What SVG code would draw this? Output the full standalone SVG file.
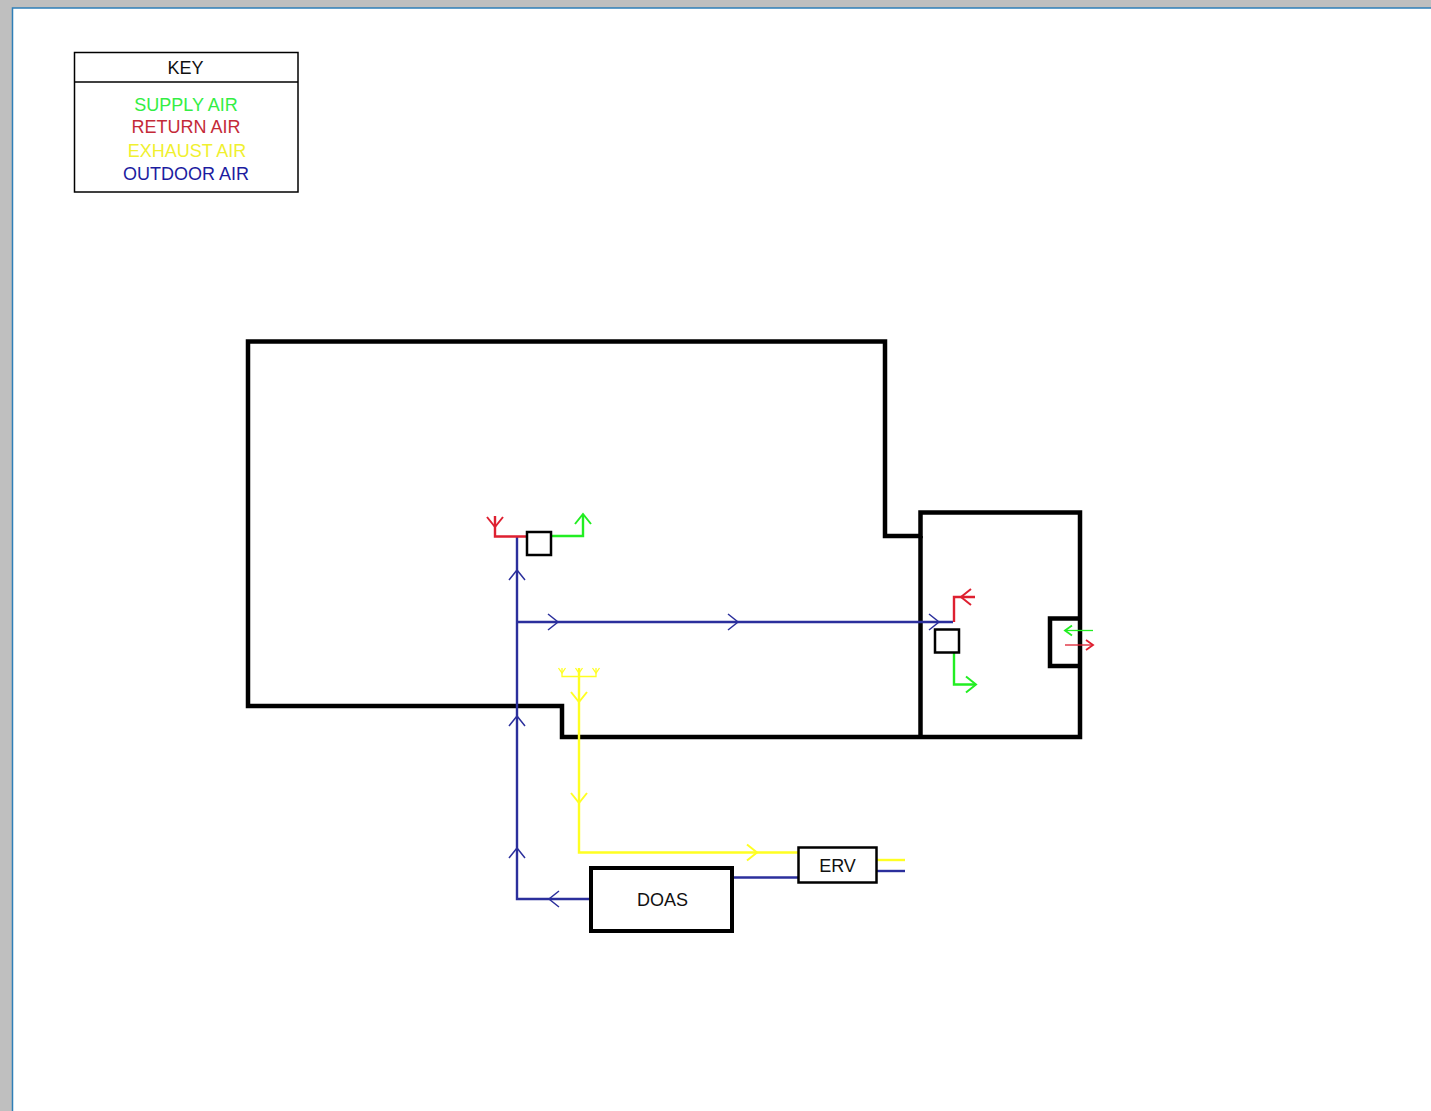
<svg xmlns="http://www.w3.org/2000/svg" xmlns:xlink="http://www.w3.org/1999/xlink" width="1431" height="1111" viewBox="0 0 1431 1111">
<style>
text{font-family:"Liberation Sans",Arial,sans-serif;font-size:18px;text-anchor:middle;fill:#111}
.wall{fill:none;stroke:#000;stroke-width:4.500;stroke-linejoin:miter}
.box{fill:#fff;stroke:#000}
.duct{fill:none;stroke-width:2.400;stroke-linejoin:miter}
.duct use{stroke-width:1.500}
.thin{fill:none;stroke-width:1.300}
.oa{stroke:#2b2f9c}.ra{stroke:#de2030}.sa{stroke:#22ee22}.ea{stroke:#ffff22}
</style>
<defs>
<path id="h" d="M-10,-8 L0,0 L-10,8" fill="none"/>
<path id="t" d="M-5,-3.500 L0,0 L-5,3.500" fill="none"/>
</defs>
<rect width="1431" height="1111" fill="#bfbfbf"/>
<rect x="12.500" y="8" width="1419.500" height="1104" fill="#fff" stroke="#2f7fb8" stroke-width="1.500"/>
<g id="key">
<rect class="box" x="74.500" y="52.500" width="223.500" height="139.500" stroke-width="1.500"/>
<line x1="74.500" y1="82" x2="298" y2="82" stroke="#000" stroke-width="1.500"/>
<text x="185.500" y="74">KEY</text>
<text x="186" y="111" style="fill:#33ee44">SUPPLY AIR</text>
<text x="186" y="133" style="fill:#c42a38">RETURN AIR</text>
<text x="187" y="156.500" style="fill:#f0f030">EXHAUST AIR</text>
<text x="186" y="180" style="fill:#1c1ca0">OUTDOOR AIR</text>
</g>
<g id="building">
<path class="wall" d="M248,341.500H885V536H920.500V512.500H1080V737H562V706H248Z"/>
<path class="wall" d="M920.500,536V737"/>
<path class="wall" stroke-width="5" d="M1080,618.500H1050V666H1080"/>
</g>
<g id="connectors">
<g class="duct oa">
<path d="M517,537V899H590"/>
<path d="M517,622H953"/>
<path d="M732,877.500H798"/>
<path d="M877,871H905"/>
<use href="#h" transform="translate(517,570) rotate(-90)"/>
<use href="#h" transform="translate(517,716) rotate(-90)"/>
<use href="#h" transform="translate(517,848) rotate(-90)"/>
<use href="#h" transform="translate(558,622)"/>
<use href="#h" transform="translate(738,622)"/>
<use href="#h" transform="translate(939,622)"/>
<use href="#h" transform="translate(549,899) rotate(180)"/>
</g>
<g class="duct ra">
<path d="M527,536.500H495V516"/>
<path d="M954,622V597H975"/>
<use href="#h" style="stroke-width:2" transform="translate(495,527) rotate(90)"/>
<use href="#h" style="stroke-width:2" transform="translate(961,597) rotate(180)"/>
</g>
<g class="duct sa">
<path d="M552,536H583V515"/>
<path d="M954,653V684.500H975"/>
<use href="#h" style="stroke-width:2" transform="translate(583,514) rotate(-90)"/>
<use href="#h" style="stroke-width:2" transform="translate(976,684.500)"/>
</g>
<g class="duct ea">
<path d="M579,668V852.500H798"/>
<path d="M877,860H905"/>
<use href="#h" style="stroke-width:2" transform="translate(579,702) rotate(90)"/>
<use href="#h" style="stroke-width:2" transform="translate(579,803) rotate(90)"/>
<use href="#h" style="stroke-width:2" transform="translate(757,852.500)"/>
</g>
<g class="thin ea">
<path d="M562,668V676.500H596V668"/>
<use href="#t" transform="translate(562,673) rotate(90)"/>
<use href="#t" transform="translate(579,673) rotate(90)"/>
<use href="#t" transform="translate(596,673) rotate(90)"/>
</g>
<g class="thin sa">
<path d="M1093,630.500H1065"/>
<use href="#t" transform="translate(1065,630.500) rotate(180) scale(1.400)"/>
</g>
<g class="thin ra">
<path d="M1065,645H1093"/>
<use href="#t" transform="translate(1093,645) scale(1.400)"/>
</g>
</g>
<g id="unit-1"><rect class="box" x="527" y="532" width="24" height="23" stroke-width="2.500"/></g>
<g id="unit-2"><rect class="box" x="935" y="629.500" width="24" height="23" stroke-width="2.500"/></g>
<g id="erv"><rect class="box" x="798.500" y="847.500" width="78" height="35" stroke-width="2.500"/><text x="837.500" y="872">ERV</text></g>
<g id="doas"><rect class="box" x="591" y="868" width="141" height="63" stroke-width="4"/><text x="662.500" y="906">DOAS</text></g>
</svg>
